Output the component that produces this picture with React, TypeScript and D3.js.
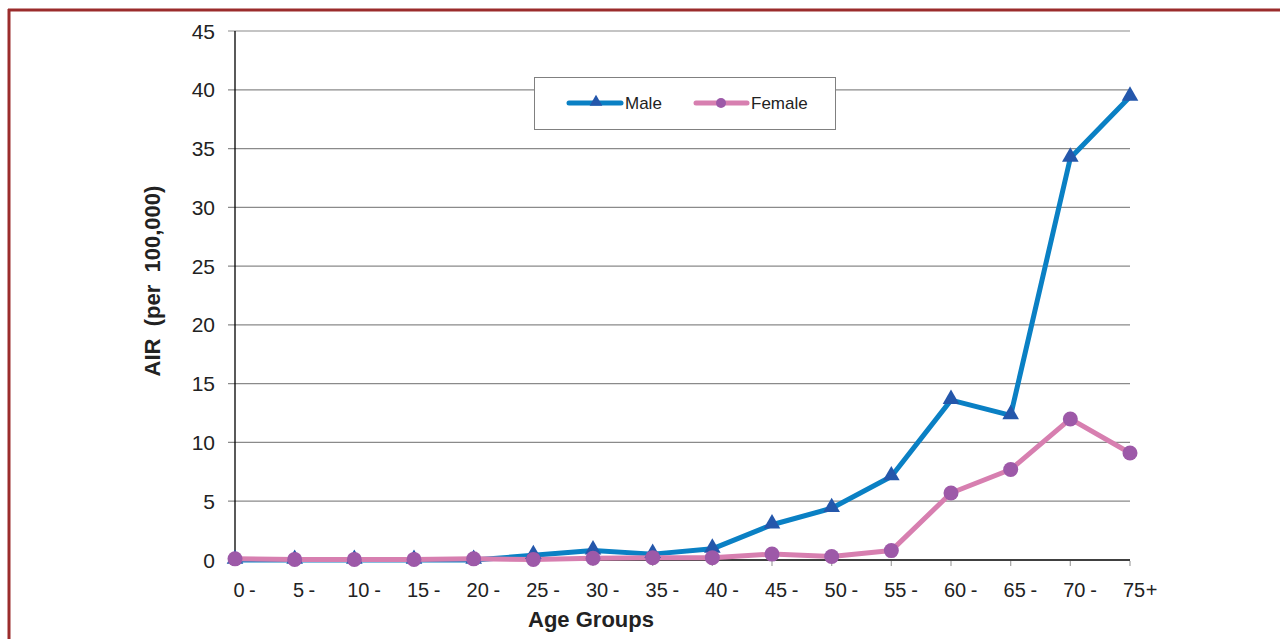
import React from "react";
import * as d3 from "d3";

const categories = ["0-", "5-", "10-", "15-", "20-", "25-", "30-", "35-", "40-", "45-", "50-", "55-", "60-", "65-", "70-", "75+"];
const maleValues = [0, 0, 0, 0, 0, 0.4, 0.8, 0.5, 0.95, 3.0, 4.4, 7.1, 13.6, 12.3, 34.2, 39.4];
const femaleValues = [0.1, 0.05, 0.05, 0.05, 0.1, 0.05, 0.15, 0.2, 0.2, 0.5, 0.3, 0.8, 5.7, 7.7, 12.0, 9.1];
const yTicks = [0, 5, 10, 15, 20, 25, 30, 35, 40, 45];

const W = 1280;
const H = 639;
const left = 235;
const right = 1130;
const top = 31;
const bottom = 560;

const MALE_LINE = "#0a80c4";
const MALE_MARK = "#2457ab";
const FEM_LINE = "#d77fb0";
const FEM_MARK = "#9d59a8";
const FONT = "'Liberation Sans', Arial, sans-serif";

export default function App() {
  const x = d3.scalePoint<string>().domain(categories).range([left, right]);
  const y = d3.scaleLinear().domain([0, 45]).range([bottom, top]);
  const line = d3
    .line<number>()
    .x((_, i) => x(categories[i]) as number)
    .y((d) => y(d));
  const tri = d3.symbol().type(d3.symbolTriangle).size(120)();
  const triSmall = d3.symbol().type(d3.symbolTriangle).size(70)();

  return (
    <svg width={W} height={H} style={{ position: "absolute", left: 0, top: 0 }} fontFamily={FONT}>
      <rect x={0} y={0} width={W} height={H} fill="#fff" />
      {/* frame */}
      <line x1={8} x2={W} y1={10} y2={10} stroke="#9b2c2c" strokeWidth={3} />
      <line x1={9} x2={9} y1={9} y2={H} stroke="#9b2c2c" strokeWidth={3} />

      {/* gridlines & y ticks */}
      {yTicks.map((t) => (
        <g key={t}>
          {t > 0 && (
            <line x1={228} x2={right} y1={y(t)} y2={y(t)} stroke="#8a8a8a" strokeWidth={1.2} />
          )}
          {t === 0 && <line x1={228} x2={left} y1={y(t)} y2={y(t)} stroke="#000" strokeWidth={1} />}
          <text x={215} y={y(t)} dy="0.36em" textAnchor="end" fontSize={21} fill="#222">
            {t}
          </text>
        </g>
      ))}
      {/* axes */}
      <line x1={left} x2={left} y1={top} y2={bottom} stroke="#000" strokeWidth={1.3} />
      <line x1={left} x2={right} y1={bottom} y2={bottom} stroke="#000" strokeWidth={1.3} />
      {categories.map((c) => (
        <line key={c} x1={x(c)} x2={x(c)} y1={bottom + 1} y2={bottom + 6} stroke="#aaa" strokeWidth={1.3} />
      ))}
      {/* x labels */}
      {categories.map((c) => {
        const num = c.slice(0, -1);
        const suf = c.slice(-1);
        const cx = (x(c) as number) + 4;
        const halfW = num.length * 5.9;
        return (
          <g key={c} fontSize={20} fill="#222">
            <text x={cx} y={597} textAnchor="middle">
              {num}
            </text>
            <text x={cx + halfW + (suf === "+" ? 0 : 4)} y={597} textAnchor="start">
              {suf}
            </text>
          </g>
        );
      })}

      {/* axis titles */}
      <text x={591} y={627} textAnchor="middle" fontSize={22} fontWeight="bold" fill="#222">
        Age Groups
      </text>
      <text
        transform={`translate(160,281) rotate(-90)`}
        textAnchor="middle"
        fontSize={22}
        fontWeight="bold"
        fill="#222"
        style={{ whiteSpace: "pre" }}
      >
        {"AIR  (per  100,000)"}
      </text>

      {/* series */}
      <path d={line(maleValues) as string} fill="none" stroke={MALE_LINE} strokeWidth={5} strokeLinejoin="round" />
      <path d={line(femaleValues) as string} fill="none" stroke={FEM_LINE} strokeWidth={5} strokeLinejoin="round" />
      {maleValues.map((v, i) => (
        <path key={i} d={tri as string} transform={`translate(${x(categories[i])},${y(v) - 1})`} fill={MALE_MARK} />
      ))}
      {femaleValues.map((v, i) => (
        <circle key={i} cx={x(categories[i])} cy={y(v)} r={7.5} fill={FEM_MARK} />
      ))}

      {/* legend */}
      <rect x={534.5} y={77.5} width={301} height={52} fill="#fff" stroke="#808080" strokeWidth={1} />
      <line x1={569} x2={621} y1={103} y2={103} stroke={MALE_LINE} strokeWidth={5} strokeLinecap="round" />
      <path d={triSmall as string} transform="translate(596,102)" fill={MALE_MARK} />
      <text x={625} y={103} dy="0.36em" fontSize={17} fill="#222">
        Male
      </text>
      <line x1={696} x2={747} y1={103} y2={103} stroke={FEM_LINE} strokeWidth={5} strokeLinecap="round" />
      <circle cx={721} cy={103} r={5} fill={FEM_MARK} />
      <text x={751} y={103} dy="0.36em" fontSize={17} fill="#222">
        Female
      </text>
    </svg>
  );
}
